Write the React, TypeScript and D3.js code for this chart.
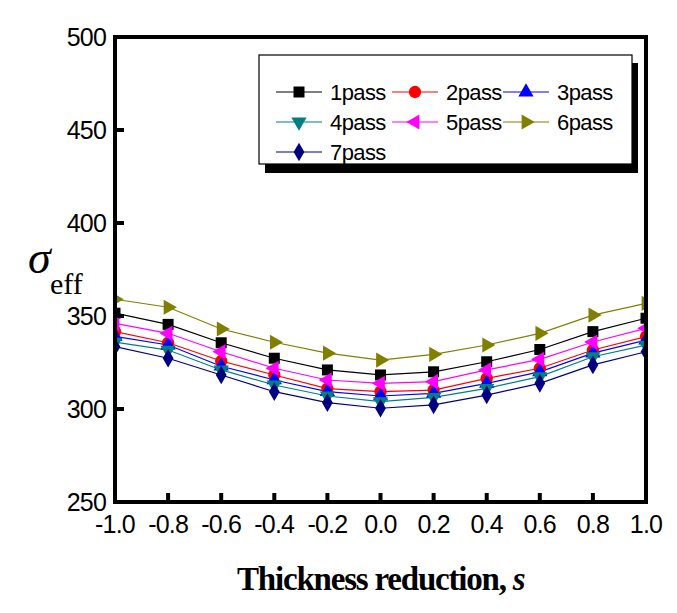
import React from "react";
import * as d3 from "d3";

const sValues = [-1.0, -0.8, -0.6, -0.4, -0.2, 0.0, 0.2, 0.4, 0.6, 0.8, 1.0];
const pass1 = [351.5, 345.5, 335.6, 327.3, 321.0, 318.3, 320.0, 325.4, 332.0, 341.6, 348.8];
const pass2 = [341.6, 335.6, 325.8, 318.3, 311.0, 309.3, 310.2, 316.5, 321.9, 331.7, 338.9];
const pass3 = [339.0, 334.4, 323.0, 315.6, 309.3, 307.0, 308.4, 313.8, 320.0, 330.0, 337.0];
const pass4 = [336.0, 331.7, 321.0, 312.9, 307.0, 304.0, 306.3, 311.1, 317.4, 328.1, 334.4];
const pass5 = [346.0, 340.7, 330.8, 321.9, 315.6, 313.8, 314.7, 321.0, 326.7, 336.0, 343.4];
const pass6 = [359.0, 354.7, 343.0, 335.9, 330.0, 326.3, 329.4, 334.4, 340.7, 350.5, 356.8];
const pass7 = [333.5, 327.3, 318.3, 309.3, 303.4, 300.4, 302.2, 307.5, 313.8, 323.7, 330.8];

const seriesNames = ["1pass", "2pass", "3pass", "4pass", "5pass", "6pass", "7pass"];
const seriesValues = [pass1, pass2, pass3, pass4, pass5, pass6, pass7];
const seriesColors = ["#000000", "#FF0000", "#0000FF", "#008080", "#FF00FF", "#808000", "#000080"];
const xTicks = [-1.0, -0.8, -0.6, -0.4, -0.2, 0.0, 0.2, 0.4, 0.6, 0.8, 1.0];
const yTicks = [250, 300, 350, 400, 450, 500];

const W = 677, H = 613;
const left = 115, right = 646, top = 37, bottom = 502;

const x = d3.scaleLinear().domain([-1, 1]).range([left, right]);
const y = d3.scaleLinear().domain([250, 500]).range([bottom, top]);

type Mk = { type: d3.SymbolType; size: number; rot: number };
const markers: Mk[] = [
  { type: d3.symbolSquare, size: 121, rot: 0 },
  { type: d3.symbolCircle, size: 120, rot: 0 },
  { type: d3.symbolTriangle, size: 100, rot: 0 },
  { type: d3.symbolTriangle, size: 100, rot: 180 },
  { type: d3.symbolTriangle, size: 100, rot: -90 },
  { type: d3.symbolTriangle, size: 100, rot: 90 },
  { type: d3.symbolDiamond, size: 100, rot: 0 },
];

function Marker({ i, cx, cy }: { i: number; cx: number; cy: number }) {
  const m = markers[i];
  const d = d3.symbol().type(m.type).size(m.size)() as string;
  return <path d={d} fill={seriesColors[i]} transform={`translate(${cx},${cy}) rotate(${m.rot})`} />;
}

const fmt = (t: number) => (t < 0 ? "-" : "") + Math.abs(t).toFixed(1);

export default function App() {
  const line = d3.line<number>().x((_, i) => x(sValues[i])).y((v) => y(v));
  const legendCols = [276, 392, 503];
  const legendRows = [92, 122, 152];
  return (
    <svg width={W} height={H} style={{ position: "absolute", left: 0, top: 0, background: "#fff" }}>
      <defs>
        <clipPath id="plotclip">
          <rect x={left} y={top} width={right - left} height={bottom - top} />
        </clipPath>
      </defs>
      <rect x={0} y={0} width={W} height={H} fill="#fff" />
      <g clipPath="url(#plotclip)">
        {seriesValues.map((vals, si) => (
          <path key={"l" + si} d={line(vals) as string} fill="none" stroke={seriesColors[si]} strokeWidth={1.2} />
        ))}
        {seriesValues.map((vals, si) =>
          vals.map((v, j) => <Marker key={si + "-" + j} i={si} cx={x(sValues[j])} cy={y(v)} />)
        )}
      </g>
      <rect x={left} y={top} width={right - left} height={bottom - top} fill="none" stroke="#000" strokeWidth={4} />
      {xTicks.slice(1, -1).map((t) => (
        <line key={"xt" + t} x1={x(t)} x2={x(t)} y1={bottom} y2={bottom - 9} stroke="#000" strokeWidth={4} />
      ))}
      {yTicks.slice(1, -1).map((t) => (
        <line key={"yt" + t} x1={left} x2={left + 9} y1={y(t)} y2={y(t)} stroke="#000" strokeWidth={4} />
      ))}
      {xTicks.map((t) => (
        <text key={"xl" + t} x={x(t)} y={533} textAnchor="middle" fontFamily="Liberation Sans, Arial, sans-serif" fontSize={25} letterSpacing={-0.8}>
          {fmt(t)}
        </text>
      ))}
      {yTicks.map((t) => (
        <text key={"yl" + t} x={106} y={y(t) + 9} textAnchor="end" fontFamily="Liberation Sans, Arial, sans-serif" fontSize={25} letterSpacing={-0.8}>
          {t}
        </text>
      ))}
      <text x={237} y={590} fontFamily="Liberation Serif, Times New Roman, serif" fontWeight="bold" fontSize={33} letterSpacing={-1.2}>
        Thickness reduction, <tspan fontStyle="italic">s</tspan>
      </text>
      <text x={28} y={273} fontFamily="Liberation Serif, Times New Roman, serif" fontStyle="italic" fontSize={46}>σ</text>
      <text x={50} y={294} fontFamily="Liberation Serif, Times New Roman, serif" fontSize={30}>eff</text>
      <rect x={265} y={63} width={373} height={110} fill="#000" />
      <rect x={259} y={55} width={373} height={109} fill="#fff" stroke="#000" strokeWidth={1.2} />
      {seriesNames.map((name, i) => {
        const cx = legendCols[i % 3];
        const cy = legendRows[Math.floor(i / 3)];
        return (
          <g key={"lg" + i}>
            <line x1={cx} x2={cx + 46} y1={cy} y2={cy} stroke={seriesColors[i]} strokeWidth={1.2} />
            <Marker i={i} cx={cx + 23} cy={cy} />
            <text x={cx + 54} y={cy + 8} fontFamily="Liberation Sans, Arial, sans-serif" fontSize={22} letterSpacing={-0.6}>
              {name}
            </text>
          </g>
        );
      })}
    </svg>
  );
}
